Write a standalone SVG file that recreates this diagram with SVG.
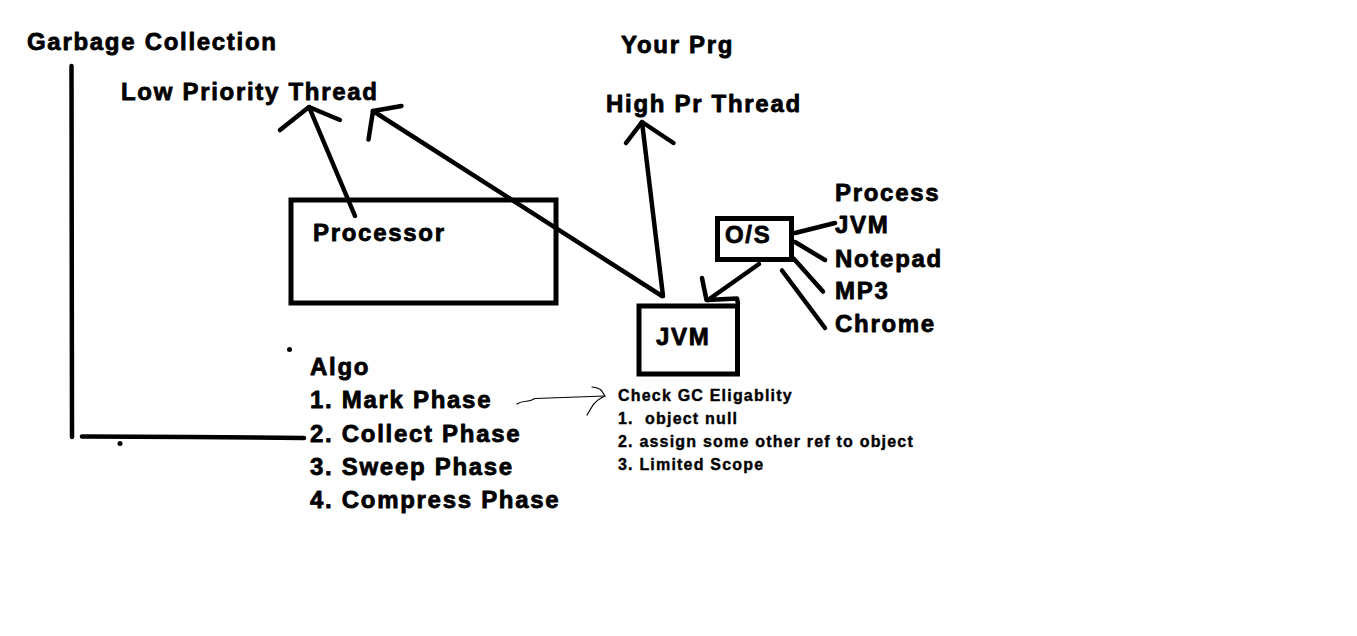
<svg xmlns="http://www.w3.org/2000/svg" width="1357" height="636" viewBox="0 0 1357 636">
<style>
.t{font-family:"Liberation Sans",Arial,sans-serif;font-weight:bold;font-size:24px;letter-spacing:1.7px;fill:#000;stroke:#000;stroke-width:0.8;stroke-linejoin:round}
.s{font-family:"Liberation Sans",Arial,sans-serif;font-weight:bold;font-size:16px;letter-spacing:1.2px;fill:#000;stroke:#000;stroke-width:0.4;stroke-linejoin:round}
.box{fill:none;stroke:#000;stroke-width:5}
.ln{fill:none;stroke:#000;stroke-width:4.5;stroke-linecap:round;stroke-linejoin:round}
.thin{fill:none;stroke:#000;stroke-width:1.2;stroke-linecap:round}
</style>
<rect width="1357" height="636" fill="#fff"/>
<g id="title"><text class="t" x="27" y="50">Garbage Collection</text></g>
<g id="low-priority"><text class="t" x="121" y="100">Low Priority Thread</text></g>
<g id="your-prg"><text class="t" x="621" y="53">Your Prg</text></g>
<g id="high-pr"><text class="t" x="606" y="112">High Pr Thread</text></g>
<g id="processor"><rect class="box" x="291" y="200" width="265" height="103"/><text class="t" x="313" y="241">Processor</text></g>
<g id="os"><rect class="box" x="717.5" y="218.5" width="74" height="41"/><text class="t" x="725" y="243">O/S</text></g>
<g id="jvm"><rect class="box" x="639" y="306" width="98.5" height="68"/><text class="t" x="656" y="345">JVM</text></g>
<g id="processes">
<text class="t" x="835" y="201">Process</text>
<text class="t" x="835" y="233">JVM</text>
<text class="t" x="835" y="266.5">Notepad</text>
<text class="t" x="835" y="299">MP3</text>
<text class="t" x="835" y="332">Chrome</text>
</g>
<g id="algo">
<text class="t" x="310" y="375">Algo</text>
<text class="t" x="310" y="408">1. Mark Phase</text>
<text class="t" x="310" y="441.5">2. Collect Phase</text>
<text class="t" x="310" y="474.5">3. Sweep Phase</text>
<text class="t" x="310" y="507.5">4. Compress Phase</text>
</g>
<g id="gc-eligibility">
<text class="s" x="618" y="400.5">Check GC Eligablity</text>
<text class="s" x="618" y="423.5" xml:space="preserve">1.  object null</text>
<text class="s" x="618" y="446.5">2. assign some other ref to object</text>
<text class="s" x="618" y="469.5">3. Limited Scope</text>
</g>
<g id="connectors">
<line class="ln" x1="71.5" y1="66" x2="72" y2="437"/>
<path class="ln" d="M82 436.5 L190 437 L304 438"/>
<circle cx="120" cy="443.5" r="2.5"/>
<circle cx="289.5" cy="349.5" r="2.5"/>
<line class="ln" x1="355" y1="216" x2="309" y2="107"/>
<polyline class="ln" points="280,130 309,107 340,120"/>
<line class="ln" x1="662" y1="296" x2="373" y2="111"/>
<polyline class="ln" points="401.5,106 373,111 368.5,139.5"/>
<line class="ln" x1="663" y1="296" x2="642" y2="122"/>
<polyline class="ln" points="626,143 642,122 673.5,143"/>
<line class="ln" x1="759" y1="264" x2="708" y2="300"/>
<polyline class="ln" points="702,278 706.5,300 737,298.5 738,304"/>
<line class="ln" x1="795" y1="233" x2="835" y2="223"/>
<line class="ln" x1="795" y1="242" x2="825" y2="260"/>
<line class="ln" x1="794" y1="259" x2="823" y2="291.5"/>
<line class="ln" x1="782" y1="270.5" x2="825" y2="328"/>
<path class="thin" d="M517 404 Q521 401.5 525 401.5 Q531 401 535 398.5 L605 396"/>
<path class="thin" d="M592 387 Q599 388 601 390 Q603 393 605 396"/>
<path class="thin" d="M587 415 Q590 410 593 405 Q598 399 604 396.5"/>
</g>
</svg>
